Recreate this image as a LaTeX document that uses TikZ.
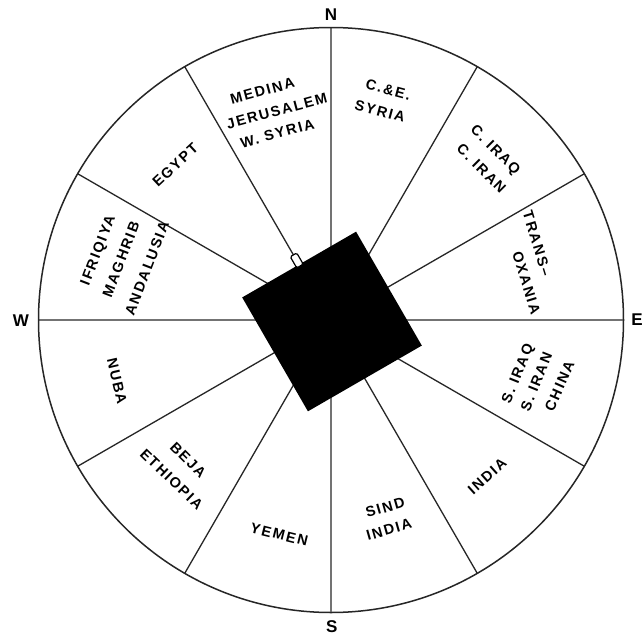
\documentclass[tikz,border=0pt]{standalone}
\usepackage{fontspec}
\newfontfamily\lblfont{Liberation Sans}[LetterSpace=12]
\newfontfamily\dirfont{Liberation Sans}
\usetikzlibrary{calc}
\begin{document}
\begin{tikzpicture}[x=1pt,y=1pt,
  region/.style={font=\lblfont\bfseries\fontsize{14.5}{17}\selectfont, inner sep=0pt, text height=10.5pt, text depth=0pt},
  cardinal/.style={font=\dirfont\bfseries\fontsize{17}{20}\selectfont, inner sep=0pt},
  spoke/.style={line width=1.3pt, draw=black!85},
  axisline/.style={line width=2pt, draw=black!55},
  rim/.style={line width=1.5pt, draw=black!85}]
\useasboundingbox (0,0) rectangle (643,-640);
\fill[white] (0,0) rectangle (643,-640);
\coordinate (c) at (331,-320);
\foreach \a in {0,30,...,330} \coordinate (r\a) at ($(c)+(\a:292.5pt)$);
\foreach \a in {30,60,120,150,210,240,300,330} \draw[spoke] (c) -- (r\a);
\draw[axisline] (r90) -- (r270);
\draw[axisline] (r180) -- (r0);
\draw[rim] (c) circle (292.5pt);
% Kaaba
\node[fill=black, draw=none, minimum size=131.5pt, inner sep=0pt, rotate=30] (kaaba) at (332,-321.5) {};
\node[draw=black, line width=1.2pt, fill=white, rounded corners=1.5pt, minimum width=7.5pt, minimum height=13pt, inner sep=0pt, rotate=30] (spout) at ($(kaaba.center)+(120:70.5pt)$) {};
% cardinal points
\node[cardinal] (n) at (331,-15) {N};
\node[cardinal] (e) at (637,-320) {E};
\node[cardinal] (s) at (331.7,-627) {S};
\node[cardinal] (w) at (21,-321) {W};
% regions
\node[region, rotate=15] (l1) at (262.3,-90.7) {MEDINA};
\node[region, rotate=15] (l2) at (276.7,-111) {JERUSALEM};
\node[region, rotate=15] (l3) at (277.3,-133.3) {W. SYRIA};
\node[region, rotate=-15] (l4) at (388.3,-89.3) {C.\&E.};
\node[region, rotate=-15] (l5) at (380,-111) {SYRIA};
\node[region, rotate=-45] (l6) at (496,-149.3) {C. IRAQ};
\node[region, rotate=-45] (l7) at (481.7,-168.3) {C. IRAN};
\node[region, rotate=-73] (l8) at (537.3,-243.3) {TRANS–};
\node[region, rotate=-73] (l9) at (526.7,-282.7) {OXANIA};
\node[region, rotate=68] (l10) at (517,-373.3) {S. IRAQ};
\node[region, rotate=68] (l11) at (536,-381.7) {S. IRAN};
\node[region, rotate=66] (l12) at (559.3,-386) {CHINA};
\node[region, rotate=42] (l13) at (487,-476) {INDIA};
\node[region, rotate=16] (l14) at (385,-507.3) {SIND};
\node[region, rotate=16] (l15) at (389,-529.3) {INDIA};
\node[region, rotate=-14] (l16) at (279.3,-534.3) {YEMEN};
\node[region, rotate=-45] (l17) at (188.3,-460) {BEJA};
\node[region, rotate=-44] (l18) at (171.7,-479.3) {ETHIOPIA};
\node[region, rotate=-77] (l19) at (117.3,-381) {NUBA};
\node[region, rotate=69] (l20) at (97.3,-250) {IFRIQIYA};
\node[region, rotate=69] (l21) at (120.7,-259.3) {MAGHRIB};
\node[region, rotate=69] (l22) at (146.7,-268.3) {ANDALUSIA};
\node[region, rotate=43] (l23) at (175,-165) {EGYPT};
\end{tikzpicture}
\end{document}
